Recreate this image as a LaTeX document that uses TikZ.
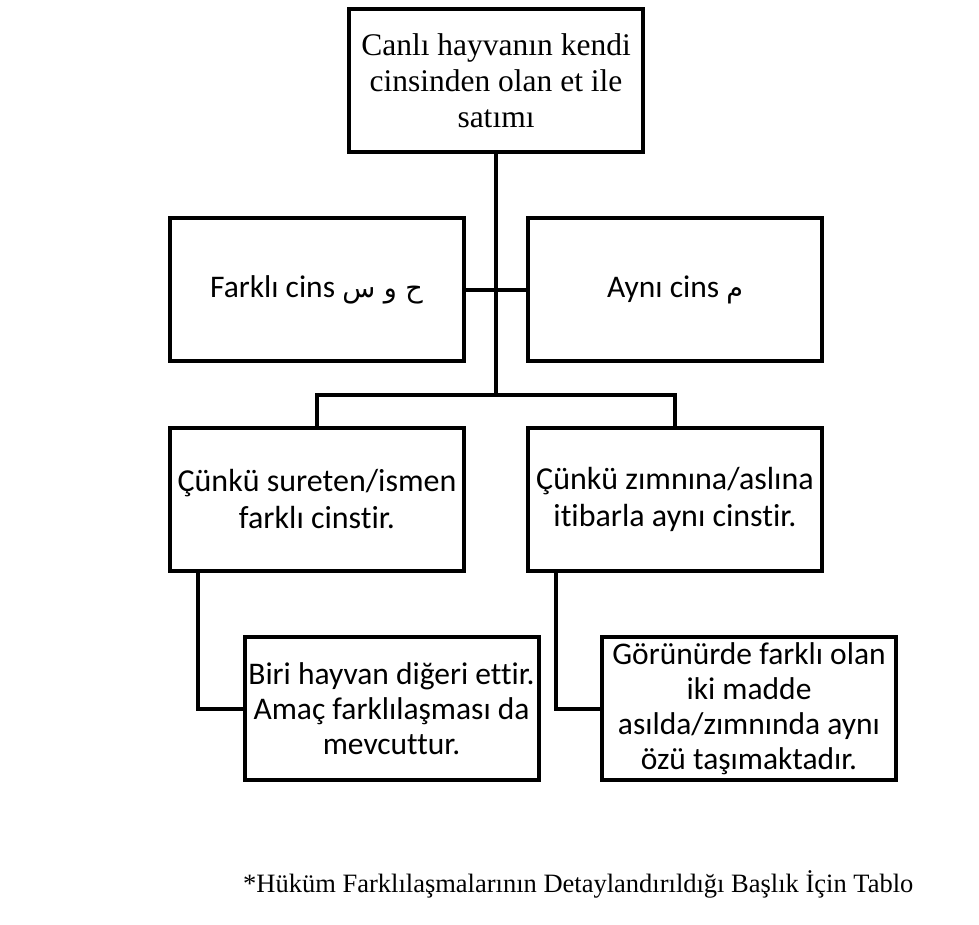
\documentclass[tikz,border=0pt]{standalone}
\usepackage{fontspec}
\setmainfont{Liberation Serif}
\newfontfamily\calfont[Ligatures=NoCommon]{Carlito}
\newfontfamily\arabicfont[Script=Arabic]{DejaVu Sans}
\TeXXeTstate=1
\begin{document}
\begin{tikzpicture}[x=1pt,y=-1pt,
  box/.style={draw, line width=4pt, minimum width=294pt, minimum height=143pt, inner sep=0pt, align=center},
  serifbox/.style={box, font=\fontsize{31.5}{36}\selectfont},
  sansbox/.style={box, font=\calfont\fontsize{31.5}{36}\selectfont},
  link/.style={line width=4pt}]
\useasboundingbox (0,0) rectangle (979,925);
\node[serifbox] (top) at (496,80.5) {Canlı hayvanın kendi\\cinsinden olan et ile\\satımı};
\node[sansbox] (l2) at (316.5,289.5) {Farklı cins {\arabicfont\fontsize{27}{36}\selectfont\beginR ح و س\endR}};
\node[sansbox] (r2) at (675,289.5) {Aynı cins {\arabicfont\fontsize{27}{36}\selectfont\beginR م\endR}};
\node[sansbox, font=\calfont\fontsize{32}{37}\selectfont] (l3) at (317,499.5) {Çünkü sureten/ismen\\farklı cinstir.};
\node[sansbox, font=\calfont\fontsize{32}{37}\selectfont] (r3) at (675,499.5) {Çünkü zımnına/aslına\\itibarla aynı cinstir.};
\node[sansbox, font=\calfont\fontsize{31.5}{35}\selectfont] (b4) at (391.5,708.5) {Biri hayvan diğeri ettir.\\Amaç farklılaşması da\\mevcuttur.};
\node[sansbox, font=\calfont\fontsize{31.5}{35}\selectfont] (b5) at (749,708.5) {Görünürde farklı olan\\iki madde\\asılda/zımnında aynı\\özü taşımaktadır.};
\node[anchor=base west, inner sep=0pt, font=\fontsize{26.5}{30}\selectfont] (cap) at (243,892) {*Hüküm Farklılaşmalarının Detaylandırıldığı Başlık İçin Tablo};
\coordinate (br) at (496,395);
\draw[link] (top.south) -- (br);
\draw[link] (l2.east) -- (r2.west);
\draw[link] (l3.north) |- (br) -| (r3.north);
\draw[link] ([xshift=30pt]l3.south west) |- (b4.west);
\draw[link] ([xshift=30pt]r3.south west) |- (b5.west);
\end{tikzpicture}
\end{document}
